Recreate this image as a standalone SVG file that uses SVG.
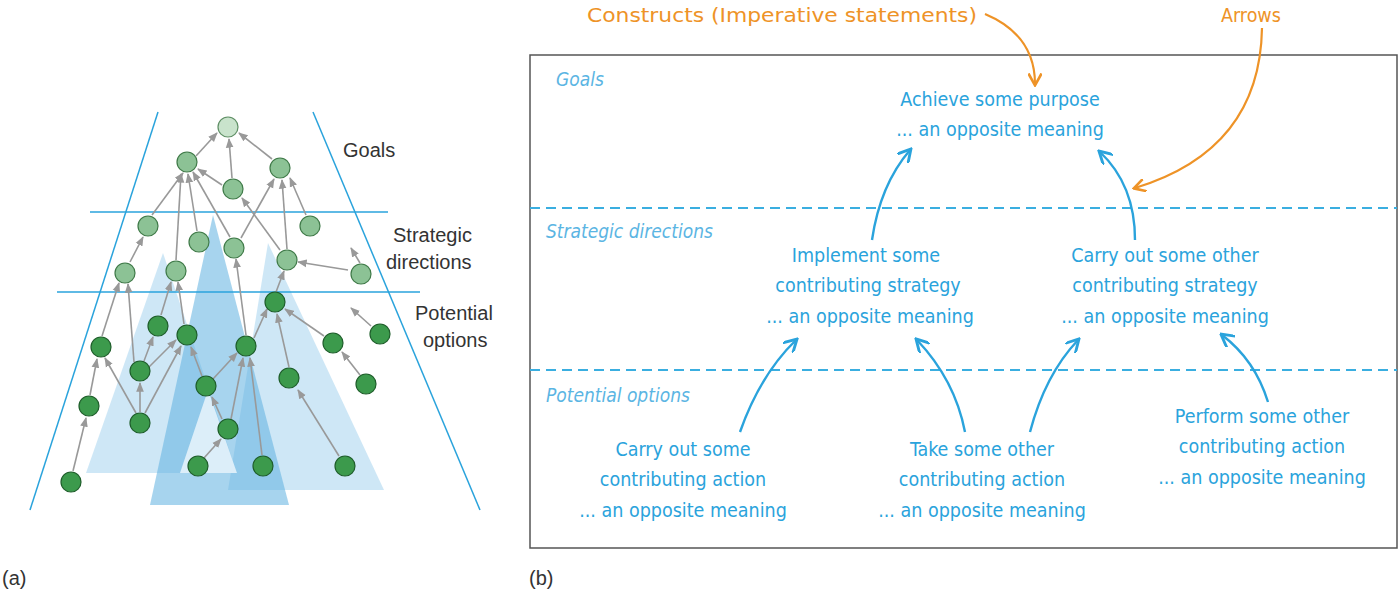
<svg xmlns="http://www.w3.org/2000/svg" width="1400" height="593" viewBox="0 0 1400 593">
<style>
.lab{font-family:"Liberation Sans",Arial,sans-serif;font-size:20px;fill:#333}
.hw{font-family:"DejaVu Sans Condensed","DejaVu Sans",sans-serif;font-stretch:condensed;font-size:19.5px;fill:#2aa3dc;text-anchor:middle}
.hl{font-family:"DejaVu Sans Condensed","DejaVu Sans",sans-serif;font-stretch:condensed;font-style:italic;font-size:19px;fill:#5bb5e3}
.or{font-family:"DejaVu Sans Condensed","DejaVu Sans",sans-serif;font-stretch:condensed;font-size:19.5px;fill:#ee9327}
.e line{stroke:#999;stroke-width:1.6;marker-end:url(#ga)}
.n{fill:#3c9a4c;stroke:#1e5e2a;stroke-width:1.2}
.m{fill:#8cc295;stroke:#3f7a48;stroke-width:1.2}
.t{fill:#c9e3cc;stroke:#5f8f65;stroke-width:1.2}
.bl{stroke:#2aa3dc;stroke-width:2.4;fill:none;marker-end:url(#ba)}
.oa{stroke:#ee9327;stroke-width:2.2;fill:none;marker-end:url(#oa)}
</style>
<defs>
<marker id="ga" viewBox="0 0 10 10" refX="9" refY="5" markerWidth="6" markerHeight="6" orient="auto"><path d="M0,1 L10,5 L0,9 z" fill="#999"/></marker>
<marker id="ba" viewBox="0 0 10 10" refX="8" refY="5" markerWidth="6" markerHeight="6" orient="auto"><path d="M0,0 L9,5 L0,10" fill="none" stroke="#2aa3dc" stroke-width="2"/></marker>
<marker id="oa" viewBox="0 0 10 10" refX="8" refY="5" markerWidth="6" markerHeight="6" orient="auto"><path d="M0,0 L9,5 L0,10" fill="none" stroke="#ee9327" stroke-width="2"/></marker>
</defs>
<rect width="1400" height="593" fill="#fff"/>
<g id="panel-a">
<polygon points="163,253 86,473 237,473" fill="#9dd0ee" opacity="0.5"/>
<polygon points="268,243 228,490 384,490" fill="#9dd0ee" opacity="0.5"/>
<polygon points="213,215 150,505 289,505" fill="#5fb0e0" opacity="0.55"/>
<polygon points="208,390 180,473 237,473" fill="#dceef9"/>
<line x1="158" y1="112" x2="30" y2="510" stroke="#2aa3dc" stroke-width="1.5"/>
<line x1="313" y1="112" x2="480" y2="510" stroke="#2aa3dc" stroke-width="1.5"/>
<line x1="90" y1="212" x2="388" y2="212" stroke="#2aa3dc" stroke-width="1.5"/>
<line x1="57" y1="292" x2="420" y2="292" stroke="#2aa3dc" stroke-width="1.5"/>
<g class="e">
<line x1="196" y1="156" x2="217" y2="133"/>
<line x1="232" y1="178" x2="229" y2="139"/>
<line x1="272" y1="159" x2="239" y2="133"/>
<line x1="222" y1="185" x2="198" y2="169"/>
<line x1="152" y1="215" x2="183" y2="173"/>
<line x1="176" y1="260" x2="181" y2="174"/>
<line x1="197" y1="231" x2="188" y2="174"/>
<line x1="230" y1="237" x2="193" y2="172"/>
<line x1="280" y1="250" x2="242" y2="198"/>
<line x1="241" y1="238" x2="274" y2="179"/>
<line x1="287" y1="249" x2="282" y2="180"/>
<line x1="306" y1="215" x2="290" y2="178"/>
<line x1="130" y1="262" x2="143" y2="237"/>
<line x1="102" y1="336" x2="119" y2="283"/>
<line x1="134" y1="362" x2="128" y2="284"/>
<line x1="161" y1="315" x2="171" y2="282"/>
<line x1="184" y1="324" x2="178" y2="282"/>
<line x1="348" y1="270" x2="298" y2="262"/>
<line x1="276" y1="292" x2="284" y2="271"/>
<line x1="360" y1="263" x2="351" y2="248"/>
<line x1="371" y1="326" x2="351" y2="308"/>
<line x1="246" y1="335" x2="236" y2="259"/>
<line x1="254" y1="338" x2="267" y2="309"/>
<line x1="289" y1="367" x2="277" y2="314"/>
<line x1="324" y1="336" x2="285" y2="309"/>
<line x1="360" y1="375" x2="342" y2="352"/>
<line x1="144" y1="361" x2="153" y2="337"/>
<line x1="148" y1="368" x2="176" y2="340"/>
<line x1="140" y1="412" x2="140" y2="383"/>
<line x1="136" y1="413" x2="105" y2="358"/>
<line x1="145" y1="413" x2="181" y2="346"/>
<line x1="90" y1="395" x2="97" y2="359"/>
<line x1="73" y1="471" x2="86" y2="418"/>
<line x1="202" y1="376" x2="191" y2="347"/>
<line x1="213" y1="379" x2="237" y2="353"/>
<line x1="222" y1="419" x2="212" y2="397"/>
<line x1="231" y1="419" x2="243" y2="358"/>
<line x1="262" y1="455" x2="250" y2="358"/>
<line x1="204" y1="458" x2="221" y2="439"/>
<line x1="339" y1="456" x2="298" y2="390"/>
</g>
<circle class="t" cx="228" cy="127" r="10"/>
<g id="nodes-mid">
<circle class="m" cx="187" cy="162" r="10"/><circle class="m" cx="280" cy="168" r="10"/><circle class="m" cx="233" cy="189" r="10"/>
<circle class="m" cx="148" cy="226" r="10"/><circle class="m" cx="199" cy="242" r="10"/><circle class="m" cx="234" cy="248" r="10"/><circle class="m" cx="310" cy="226" r="10"/>
<circle class="m" cx="125" cy="273" r="10"/><circle class="m" cx="176" cy="271" r="10"/><circle class="m" cx="287" cy="260" r="10"/><circle class="m" cx="361" cy="274" r="10"/>
</g>
<g id="nodes-low">
<circle class="n" cx="275" cy="302" r="10"/><circle class="n" cx="158" cy="326" r="10"/><circle class="n" cx="187" cy="335" r="10"/><circle class="n" cx="101" cy="347" r="10"/>
<circle class="n" cx="246" cy="346" r="10"/><circle class="n" cx="380" cy="334" r="10"/><circle class="n" cx="333" cy="343" r="10"/><circle class="n" cx="140" cy="371" r="10"/>
<circle class="n" cx="206" cy="386" r="10"/><circle class="n" cx="289" cy="378" r="10"/><circle class="n" cx="366" cy="384" r="10"/><circle class="n" cx="89" cy="406" r="10"/>
<circle class="n" cx="140" cy="423" r="10"/><circle class="n" cx="228" cy="429" r="10"/><circle class="n" cx="71" cy="482" r="10"/><circle class="n" cx="198" cy="466" r="10"/>
<circle class="n" cx="263" cy="466" r="10"/><circle class="n" cx="345" cy="466" r="10"/>
</g>
<text class="lab" x="343" y="157">Goals</text>
<text class="lab" x="393" y="242">Strategic</text>
<text class="lab" x="386" y="269">directions</text>
<text class="lab" x="415" y="320">Potential</text>
<text class="lab" x="423" y="347">options</text>
<text class="lab" x="2" y="585">(a)</text>
</g>
<g id="panel-b">
<rect x="530" y="55" width="867" height="493" fill="none" stroke="#555" stroke-width="1.5"/>
<line x1="530" y1="208" x2="1397" y2="208" stroke="#3aaee0" stroke-width="2" stroke-dasharray="10,6"/>
<line x1="530" y1="370" x2="1397" y2="370" stroke="#3aaee0" stroke-width="2" stroke-dasharray="10,6"/>
<text class="hl" x="556" y="86">Goals</text>
<text class="hl" x="546" y="238">Strategic directions</text>
<text class="hl" x="546" y="402">Potential options</text>
<g id="goal"><text class="hw" x="1000" y="106">Achieve some purpose</text><text class="hw" x="1000" y="136">... an opposite meaning</text></g>
<g id="s1"><text class="hw" x="866" y="262">Implement some</text><text class="hw" x="868" y="292">contributing strategy</text><text class="hw" x="870" y="323">... an opposite meaning</text></g>
<g id="s2"><text class="hw" x="1165" y="262">Carry out some other</text><text class="hw" x="1165" y="292">contributing strategy</text><text class="hw" x="1165" y="323">... an opposite meaning</text></g>
<g id="o1"><text class="hw" x="683" y="456">Carry out some</text><text class="hw" x="683" y="486">contributing action</text><text class="hw" x="683" y="517">... an opposite meaning</text></g>
<g id="o2"><text class="hw" x="982" y="456">Take some other</text><text class="hw" x="982" y="486">contributing action</text><text class="hw" x="982" y="517">... an opposite meaning</text></g>
<g id="o3"><text class="hw" x="1262" y="423">Perform some other</text><text class="hw" x="1262" y="453">contributing action</text><text class="hw" x="1262" y="484">... an opposite meaning</text></g>
<g id="connectors">
<path class="bl" d="M872,240 Q880,185 910,150"/>
<path class="bl" d="M1135,240 Q1135,185 1100,152"/>
<path class="bl" d="M740,432 Q760,375 796,340"/>
<path class="bl" d="M965,432 Q955,380 917,340"/>
<path class="bl" d="M1030,432 Q1045,375 1078,340"/>
<path class="bl" d="M1268,402 Q1255,360 1222,335"/>
<path class="oa" d="M985,14 Q1035,35 1035,84"/>
<path class="oa" d="M1262,28 Q1260,150 1135,188"/>
</g>
<text class="or" x="587" y="22" textLength="390" lengthAdjust="spacingAndGlyphs">Constructs (Imperative statements)</text>
<text class="or" x="1221" y="22">Arrows</text>
<text class="lab" x="529" y="585">(b)</text>
</g>
</svg>
